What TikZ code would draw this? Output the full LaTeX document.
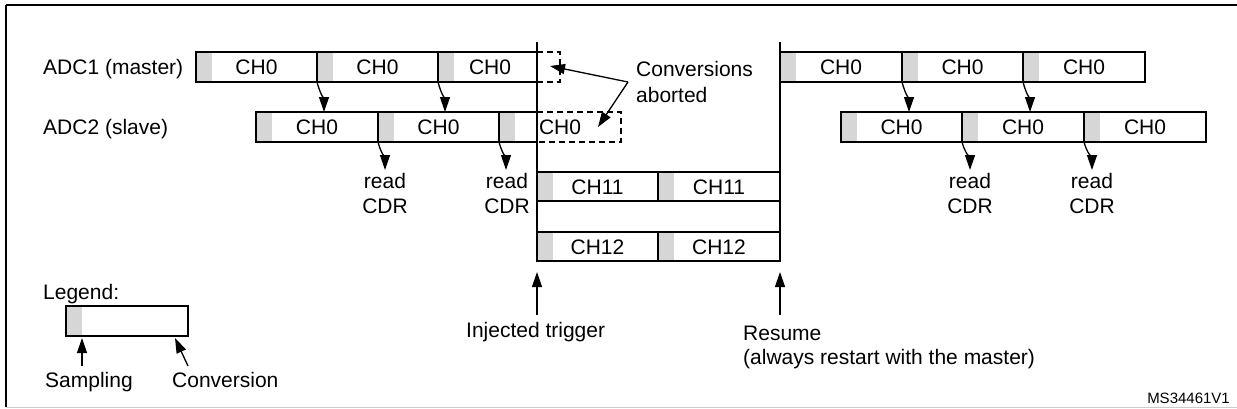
\documentclass[tikz,border=0pt]{standalone}
\usepackage{fontspec}
\setmainfont{Liberation Sans}
\usetikzlibrary{arrows.meta}
\definecolor{sampgray}{RGB}{214,214,214}
\newcommand\adcseg[4]{%
  \fill[samp] (#1,#3) rectangle ({#1+16},#4);
  \draw[box] (#1,#3) rectangle (#2,#4);}
\begin{document}
\begin{tikzpicture}[x=1pt,y=-1pt,
  box/.style={draw=black,line width=1.6pt},
  samp/.style={fill=sampgray},
  dashbox/.style={draw=black,line width=1.6pt,dash pattern=on 6pt off 4pt},
  lbl/.style={inner sep=0pt,font=\fontsize{21}{24}\selectfont},
  small/.style={inner sep=0pt,font=\fontsize{15}{17}\selectfont},
  arr/.style={line width=1.3pt,-{Triangle[length=15pt,width=10pt]}},
  vline/.style={line width=1.5pt}]
\useasboundingbox (0,0) rectangle (1237,408);
\fill[white] (0,0) rectangle (1237,408);
% frame
\draw[line width=2.2pt] (6,5) -- (1237,5);
\draw[line width=1.8pt] (6,5) -- (6,407);
\draw[black!20,line width=1pt] (6,407) -- (1237,407);

% ---------- left ADC1 ----------
\adcseg{196}{317}{52}{82}
\adcseg{317}{438}{52}{82}
\fill[samp] (438,52) rectangle (454,82);
\draw[box] (537,52) -- (438,52) -- (438,82) -- (537,82);
\draw[dashbox] (537,52) -- (560,52) -- (560,82) -- (537,82);
% ---------- left ADC2 ----------
\adcseg{256}{378}{112}{142}
\adcseg{378}{499}{112}{142}
\fill[samp] (499,112) rectangle (515,142);
\draw[box] (537,112) -- (499,112) -- (499,142) -- (537,142);
\draw[dashbox] (537,112) -- (621,112) -- (621,142) -- (537,142);
% ---------- injected ----------
\adcseg{537}{658}{172}{201}
\adcseg{658}{780}{172}{201}
\adcseg{537}{658}{232}{261}
\adcseg{658}{780}{232}{261}
% ---------- right ADC1 ----------
\adcseg{780}{902}{52}{82}
\adcseg{902}{1023}{52}{82}
\adcseg{1023}{1145}{52}{82}
% ---------- right ADC2 ----------
\adcseg{841}{962}{112}{142}
\adcseg{962}{1084}{112}{142}
\adcseg{1084}{1206}{112}{142}
% ---------- legend box ----------
\adcseg{66}{188}{306}{336}

% vertical time lines
\coordinate (trigtop) at (537,42);
\coordinate (trigbot) at (537,261);
\coordinate (restop) at (780,42);
\coordinate (resbot) at (780,261);
\draw[vline] (trigtop) -- (trigbot);
\draw[vline] (restop) -- (resbot);

% texts
\node[lbl,anchor=base west] (adc1) at (43,74) {ADC1 (master)};
\node[lbl,anchor=base west] (adc2) at (43,134) {ADC2 (slave)};
\foreach \x/\n in {256.5/a, 377.5/b, 490/c, 841/d, 962.5/e, 1084/f}
  \node[lbl,anchor=base] (m\n) at (\x,74) {CH0};
\foreach \x/\n in {317/a, 438.5/b, 560/c, 901.5/d, 1023/e, 1145/f}
  \node[lbl,anchor=base] (s\n) at (\x,134) {CH0};
\node[lbl,anchor=base] (i11a) at (597.5,194) {CH11};
\node[lbl,anchor=base] (i11b) at (719,194) {CH11};
\node[lbl,anchor=base] (i12a) at (597.5,254) {CH12};
\node[lbl,anchor=base] (i12b) at (719,254) {CH12};
\foreach \x/\n in {385/a, 507/b, 970/c, 1092/d}{
  \node[lbl,anchor=base] (rd\n) at (\x,188) {read};
  \node[lbl,anchor=base] (cdr\n) at (\x,213) {CDR};}
\node[lbl,anchor=base west] (conv) at (636,76) {Conversions};
\node[lbl,anchor=base west] (abort) at (636,102) {aborted};
\node[lbl,anchor=base west] (leg) at (43,299) {Legend:};
\node[lbl,anchor=base west] (sampl) at (45,387) {Sampling};
\node[lbl,anchor=base west] (convl) at (172,387) {Conversion};
\node[lbl,anchor=base west] (inj) at (466,337) {Injected trigger};
\node[lbl,anchor=base west] (res) at (743,340) {Resume};
\node[lbl,anchor=base west] (res2) at (743,364) {(always restart with the master)};
\node[small,anchor=base east] (ref) at (1230,403) {MS34461V1};

% master -> slave arrows
\foreach \xa/\xb in {317/324, 438/445, 902/909, 1023/1030}
  \draw[arr] (\xa,82) to[out=-75,in=90] (\xb,112);
% read CDR arrows
\foreach \xa/\xb in {378/385, 499/506, 962/970, 1084/1092}
  \draw[arr] (\xa,142) to[out=-75,in=90] (\xb,170);
% conversions aborted
\coordinate (abp) at (628,82);
\coordinate (ab1) at (550,66);
\coordinate (ab2) at (598,127);
\draw[arr] (abp) -- (ab1);
\draw[arr] (abp) -- (ab2);
% trigger / resume arrows
\coordinate (injtail) at (537,315);
\coordinate (injtip) at (537,272);
\coordinate (restail) at (780,315);
\coordinate (restip) at (780,272);
\draw[arr] (injtail) -- (injtip);
\draw[arr] (restail) -- (restip);
% legend arrows
\coordinate (sat) at (82,366);
\coordinate (sah) at (82,338);
\coordinate (cot) at (188,366);
\coordinate (coh) at (175,338);
\draw[arr] (sat) -- (sah);
\draw[arr] (cot) -- (coh);
\end{tikzpicture}
\end{document}
